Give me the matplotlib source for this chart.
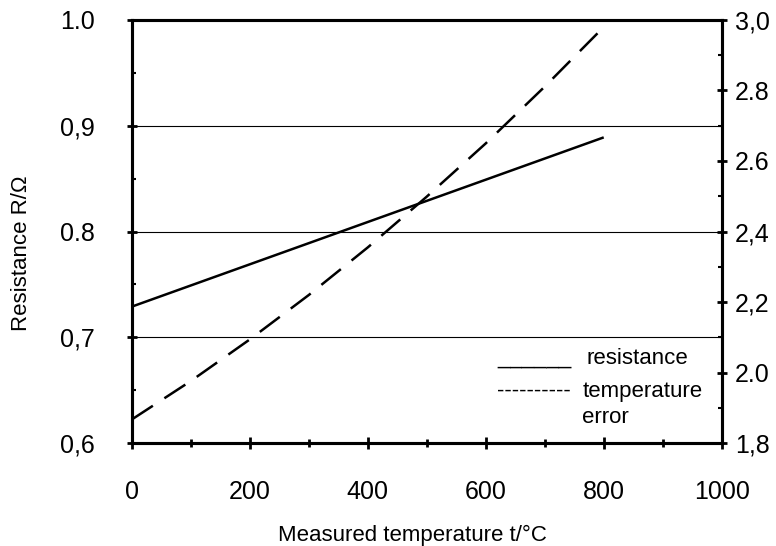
# resistance and temperature error versus measured temperature
import matplotlib
matplotlib.use("Agg")
import matplotlib.pyplot as plt
from matplotlib.ticker import MultipleLocator, FixedLocator, FixedFormatter

plt.rcParams['font.family'] = ['Liberation Sans', 'DejaVu Sans']

# data
temp = [0, 100, 200, 300, 400, 500, 600, 700, 800]
resistance = [0.729, 0.749, 0.769, 0.789, 0.809, 0.829, 0.849, 0.869, 0.889]
temp_error = [1.867, 1.976, 2.094, 2.220, 2.355, 2.499, 2.650, 2.811, 2.980]

left_ticks = [0.6, 0.7, 0.8, 0.9, 1.0]
left_labels = ["0,6", "0,7", "0.8", "0,9", "1.0"]
right_ticks = [1.8, 2.0, 2.2, 2.4, 2.6, 2.8, 3.0]
right_labels = ["1,8", "2.0", "2,2", "2,4", "2.6", "2.8", "3,0"]


def main():
    fig = plt.figure(figsize=(7.76, 5.46), dpi=100)
    ax = fig.add_axes([0.170, 0.1886, 0.760, 0.7748])
    ax2 = ax.twinx()

    ax.plot(temp, resistance, color="black", lw=1.8, solid_capstyle="butt")
    ax2.plot(temp, temp_error, color="black", lw=1.8, dashes=(10, 5.5))

    ax.set_xlim(0, 1000)
    ax.set_ylim(0.6, 1.0)
    ax2.set_ylim(1.8, 3.0)

    ax.xaxis.set_major_locator(MultipleLocator(200))
    ax.xaxis.set_minor_locator(MultipleLocator(100))
    ax.yaxis.set_major_locator(FixedLocator(left_ticks))
    ax.yaxis.set_major_formatter(FixedFormatter(left_labels))
    ax.yaxis.set_minor_locator(MultipleLocator(0.05))
    ax2.yaxis.set_major_locator(FixedLocator(right_ticks))
    ax2.yaxis.set_major_formatter(FixedFormatter(right_labels))
    ax2.yaxis.set_minor_locator(MultipleLocator(0.1))

    # horizontal grid lines
    ax.grid(True, axis="y", which="major", color="black", lw=0.8)
    ax.set_axisbelow(True)

    for a in (ax, ax2):
        for s in a.spines.values():
            s.set_linewidth(2.2)
            s.set_color("black")

    ax.tick_params(axis="x", which="major", direction="inout", length=9, width=2,
                   pad=22, labelsize=18)
    ax.tick_params(axis="x", which="minor", direction="inout", length=6, width=2)
    ax.tick_params(axis="y", which="major", direction="inout", length=7, width=2,
                   pad=23, labelsize=18)
    ax.tick_params(axis="y", which="minor", direction="in", length=3, width=1.5)
    ax2.tick_params(axis="y", which="major", direction="inout", length=7, width=2,
                    pad=6, labelsize=18)
    ax2.tick_params(axis="y", which="minor", direction="in", length=3, width=1.5)

    ax.set_xlabel("Measured temperature t/°C", fontsize=16)
    ax.xaxis.set_label_coords(0.475, -0.193)
    ax.set_ylabel("Resistance R/Ω", fontsize=16)
    ax.yaxis.set_label_coords(-0.17, 0.449)

    # hand-written legend
    tr = ax.transAxes
    ax.text(0.619, 0.187, "______", fontsize=16, va="baseline", transform=tr)
    ax.text(0.771, 0.187, "resistance", fontsize=16, va="baseline", transform=tr)
    ax.text(0.619, 0.109, "----------", fontsize=16, va="baseline", transform=tr)
    ax.text(0.764, 0.109, "temperature", fontsize=16, va="baseline", transform=tr)
    ax.text(0.764, 0.047, "error", fontsize=16, va="baseline", transform=tr)

    fig.savefig("out.png", dpi=100)


if __name__ == "__main__":
    main()
